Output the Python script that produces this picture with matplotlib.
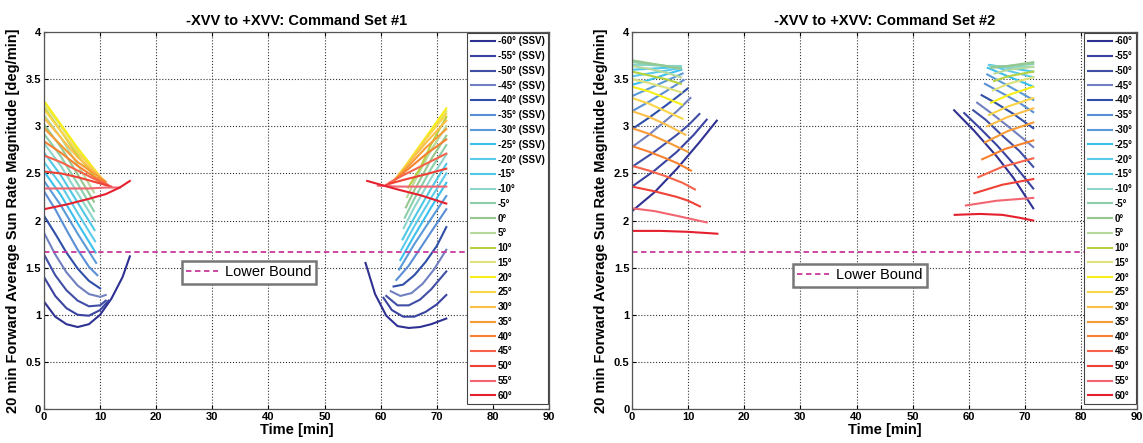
import numpy as np
import matplotlib.pyplot as plt
from matplotlib.lines import Line2D

plt.rcParams['font.family'] = ['Liberation Sans', 'DejaVu Sans']

angles = [-60, -55, -50, -45, -40, -35, -30, -25, -20, -15, -10, -5, 0,
          5, 10, 15, 20, 25, 30, 35, 40, 45, 50, 55, 60]
colors = ['#2e3192', '#3a44a0', '#404ea5', '#7080c0', '#2f4fa8', '#5b8fd5',
          '#5a9ad8', '#3cc0ee', '#5ccbea', '#4fc8e6', '#8dd5cc', '#8acfaa',
          '#94c88f', '#b7d99a', '#b6d23f', '#dfe27a', '#f7ef1a', '#fad548',
          '#fbbf4a', '#f89a35', '#f7812e', '#f6634a', '#ef4136', '#f16670',
          '#e5202e']
lower_bound = 1.67

# Command set #1, start of the window (t from 0)
set1_a_t = [
    [0, 2, 4, 6, 8, 10, 12, 14, 15.3],
    [0, 2, 4, 6, 8, 10, 11.5],
    [0, 2, 4, 6, 8, 10, 11],
    [0, 2, 4, 6, 8, 10, 11],
    [0, 2, 4, 6, 8, 10],
    [0, 2, 4, 6, 8, 9.5],
    [0, 3, 6, 9.3],
    [0, 3, 6, 9.2],
    [0, 3, 6, 9.1],
    [0, 3, 6, 9.0],
    [0, 3, 6, 9.0],
    [0, 3, 6, 8.9],
    [0, 3, 6, 8.9],
    [0, 3, 6, 8.9],
    [0, 3, 6, 9.6],
    [0, 3, 6, 10.0],
    [0, 3, 6, 10.2],
    [0, 3, 6, 10.4],
    [0, 3, 6, 10.6],
    [0, 3, 6, 10.8],
    [0, 3, 6, 9, 11.0],
    [0, 3, 6, 9, 11.4],
    [0, 3, 6, 9, 12.0],
    [0, 4, 8, 11, 13.5],
    [0, 4, 8, 11, 13.5, 15.3],
]
set1_a_v = [
    [1.14, 0.98, 0.90, 0.87, 0.90, 1.00, 1.17, 1.40, 1.62],
    [1.40, 1.20, 1.07, 1.00, 0.99, 1.05, 1.15],
    [1.64, 1.42, 1.26, 1.15, 1.09, 1.10, 1.15],
    [1.87, 1.64, 1.45, 1.31, 1.22, 1.19, 1.21],
    [2.05, 1.86, 1.66, 1.49, 1.36, 1.28],
    [2.31, 2.12, 1.90, 1.69, 1.51, 1.42],
    [2.42, 2.16, 1.86, 1.55],
    [2.52, 2.27, 1.97, 1.66],
    [2.62, 2.38, 2.08, 1.78],
    [2.72, 2.48, 2.19, 1.90],
    [2.82, 2.58, 2.29, 2.00],
    [2.92, 2.68, 2.39, 2.10],
    [3.02, 2.78, 2.49, 2.20],
    [3.12, 2.88, 2.59, 2.30],
    [3.20, 2.95, 2.69, 2.42],
    [3.24, 3.00, 2.75, 2.46],
    [3.27, 3.02, 2.77, 2.45],
    [3.18, 2.95, 2.72, 2.44],
    [3.09, 2.88, 2.67, 2.43],
    [2.98, 2.80, 2.62, 2.42],
    [2.84, 2.72, 2.58, 2.46, 2.41],
    [2.69, 2.62, 2.53, 2.44, 2.38],
    [2.52, 2.50, 2.46, 2.41, 2.36],
    [2.34, 2.34, 2.34, 2.35, 2.35],
    [2.12, 2.17, 2.23, 2.28, 2.35, 2.42],
]

# Command set #1, end of the window (t up to 72)
set1_b_t = [
    [57.3, 59, 61, 63, 65, 67, 69, 71.7],
    [60.5, 62, 64, 66, 68, 70, 71.7],
    [61.0, 63, 65, 67, 69, 71.7],
    [61.8, 63.5, 65.5, 67.5, 69.5, 71.7],
    [62.3, 64, 66, 68, 70, 71.7],
    [62.8, 65, 67, 69, 71.7],
    [63.3, 66, 69, 71.7],
    [63.5, 66, 69, 71.7],
    [63.7, 66, 69, 71.7],
    [63.9, 66, 69, 71.7],
    [64.1, 66, 69, 71.7],
    [64.3, 66, 69, 71.7],
    [64.5, 66, 69, 71.7],
    [64.7, 66, 69, 71.7],
    [64.9, 67, 69, 71.7],
    [62.9, 65, 68, 71.7],
    [62.8, 65, 68, 71.7],
    [62.7, 65, 68, 71.7],
    [62.5, 65, 68, 71.7],
    [62.3, 65, 68, 71.7],
    [62.0, 65, 68, 71.7],
    [61.5, 64, 68, 71.7],
    [61.0, 64, 68, 71.7],
    [59.5, 63, 67, 71.7],
    [57.6, 60, 63, 67, 71.7],
]
set1_b_v = [
    [1.55, 1.22, 0.99, 0.88, 0.86, 0.87, 0.90, 0.96],
    [1.18, 1.05, 0.98, 0.98, 1.03, 1.11, 1.21],
    [1.20, 1.10, 1.10, 1.16, 1.27, 1.46],
    [1.25, 1.20, 1.23, 1.33, 1.48, 1.69],
    [1.30, 1.32, 1.42, 1.56, 1.73, 1.93],
    [1.37, 1.52, 1.70, 1.88, 2.12],
    [1.48, 1.75, 2.02, 2.26],
    [1.58, 1.84, 2.14, 2.40],
    [1.69, 1.94, 2.24, 2.50],
    [1.80, 2.03, 2.34, 2.60],
    [1.92, 2.14, 2.45, 2.70],
    [2.03, 2.23, 2.55, 2.80],
    [2.14, 2.32, 2.65, 2.90],
    [2.25, 2.41, 2.75, 3.00],
    [2.35, 2.55, 2.81, 3.10],
    [2.45, 2.62, 2.86, 3.16],
    [2.45, 2.63, 2.88, 3.19],
    [2.44, 2.62, 2.86, 3.13],
    [2.43, 2.61, 2.82, 3.06],
    [2.42, 2.58, 2.77, 2.97],
    [2.41, 2.55, 2.70, 2.86],
    [2.40, 2.48, 2.60, 2.71],
    [2.38, 2.43, 2.49, 2.55],
    [2.37, 2.36, 2.36, 2.36],
    [2.42, 2.38, 2.33, 2.27, 2.18],
]

# Command set #2, start of the window
set2_a_t = [
    [0, 4, 8, 12, 15.1],
    [0, 4, 8, 11, 13.3],
    [0, 4, 8, 10, 12.0],
    [0, 3, 6, 8, 10.4],
    [0, 3, 6, 8, 9.9],
    [0, 3, 6, 9.2],
    [0, 3, 6, 9.0],
    [0, 3, 6, 8.8],
    [0, 3, 6, 8.7],
    [0, 3, 6, 8.7],
    [0, 3, 6, 8.7],
    [0, 3, 6, 8.6],
    [0, 3, 6, 8.6],
    [0, 3, 6, 8.7],
    [0, 3, 6, 8.7],
    [0, 3, 6, 8.8],
    [0, 3, 6, 8.9],
    [0, 3, 6, 9.0],
    [0, 3, 6, 9.5],
    [0, 3, 6, 9.9],
    [0, 3, 6, 8, 10.5],
    [0, 3, 6, 9, 11.2],
    [0, 4, 8, 10, 12.1],
    [0, 4, 8, 11, 13.3],
    [0, 5, 10, 15.2],
]
set2_a_v = [
    [2.10, 2.30, 2.55, 2.83, 3.06],
    [2.36, 2.53, 2.73, 2.91, 3.07],
    [2.57, 2.73, 2.91, 3.01, 3.13],
    [2.78, 2.91, 3.06, 3.16, 3.30],
    [2.97, 3.09, 3.22, 3.31, 3.40],
    [3.16, 3.26, 3.37, 3.49],
    [3.32, 3.40, 3.48, 3.56],
    [3.44, 3.49, 3.55, 3.60],
    [3.53, 3.56, 3.59, 3.62],
    [3.60, 3.61, 3.62, 3.63],
    [3.65, 3.65, 3.64, 3.64],
    [3.68, 3.66, 3.64, 3.62],
    [3.70, 3.67, 3.64, 3.61],
    [3.64, 3.61, 3.57, 3.52],
    [3.58, 3.54, 3.50, 3.45],
    [3.50, 3.46, 3.41, 3.36],
    [3.42, 3.37, 3.30, 3.23],
    [3.30, 3.24, 3.16, 3.08],
    [3.16, 3.10, 3.02, 2.91],
    [2.98, 2.92, 2.84, 2.73],
    [2.79, 2.73, 2.66, 2.61, 2.53],
    [2.58, 2.53, 2.47, 2.40, 2.33],
    [2.36, 2.31, 2.25, 2.21, 2.15],
    [2.13, 2.10, 2.05, 2.01, 1.98],
    [1.89, 1.89, 1.88, 1.86],
]

# Command set #2, end of the window
set2_b_t = [
    [57.4, 61, 65, 68, 71.5],
    [59.2, 62, 65, 68, 71.5],
    [60.8, 63, 66, 69, 71.5],
    [61.5, 64, 67, 71.5],
    [62.3, 65, 68, 71.5],
    [62.9, 66, 69, 71.5],
    [63.3, 67, 71.5],
    [63.4, 67, 71.5],
    [63.6, 67, 71.5],
    [63.8, 67, 71.5],
    [63.9, 67, 71.5],
    [64.0, 67, 71.5],
    [64.0, 67, 71.5],
    [64.6, 67, 71.5],
    [64.5, 67, 71.5],
    [64.3, 67, 71.5],
    [64.0, 67, 71.5],
    [63.6, 67, 71.5],
    [63.3, 67, 71.5],
    [62.9, 67, 71.5],
    [62.4, 66.5, 71.5],
    [61.7, 66, 71.5],
    [61.0, 66, 71.5],
    [59.5, 65, 71.5],
    [57.5, 62, 66, 69, 71.5],
]
set2_b_v = [
    [3.17, 2.95, 2.68, 2.45, 2.13],
    [3.14, 2.98, 2.80, 2.60, 2.34],
    [3.17, 3.07, 2.90, 2.74, 2.57],
    [3.25, 3.14, 3.00, 2.78],
    [3.33, 3.24, 3.13, 2.98],
    [3.45, 3.35, 3.25, 3.15],
    [3.55, 3.43, 3.28],
    [3.62, 3.53, 3.42],
    [3.65, 3.59, 3.52],
    [3.65, 3.62, 3.58],
    [3.64, 3.63, 3.63],
    [3.63, 3.64, 3.66],
    [3.62, 3.64, 3.68],
    [3.56, 3.60, 3.63],
    [3.48, 3.53, 3.58],
    [3.38, 3.45, 3.52],
    [3.25, 3.33, 3.42],
    [3.12, 3.21, 3.30],
    [3.00, 3.10, 3.19],
    [2.83, 2.95, 3.04],
    [2.65, 2.76, 2.85],
    [2.46, 2.57, 2.66],
    [2.29, 2.38, 2.44],
    [2.16, 2.21, 2.24],
    [2.06, 2.07, 2.06, 2.03, 2.00],
]

fig = plt.figure(figsize=(11.43, 4.43), dpi=100)
ax1 = fig.add_axes([0.0385, 0.0767, 0.4418, 0.851])
ax2 = fig.add_axes([0.553, 0.0767, 0.4418, 0.851])


def draw(ax, a_t, a_v, b_t, b_v, labels, title, lb_pos):
    handles = []
    for i in range(len(angles)):
        ax.plot(a_t[i], a_v[i], color=colors[i], lw=1.5)
        ax.plot(b_t[i], b_v[i], color=colors[i], lw=1.5)
        handles.append(Line2D([], [], color=colors[i], lw=1.5, label=labels[i]))
    lb, = ax.plot([0, 90], [lower_bound, lower_bound], ls='--', color='#c8389a',
                  lw=1.3, dashes=(3, 2), label='Lower Bound')

    ax.set_xlim(0, 90)
    ax.set_ylim(0, 4)
    ax.set_xticks(np.arange(0, 91, 10))
    ax.set_yticks(np.arange(0, 4.01, 0.5))
    ax.set_yticklabels(['0', '0.5', '1', '1.5', '2', '2.5', '3', '3.5', '4'])
    ax.grid(True, ls=':', color='#333333', lw=0.8)
    ax.tick_params(direction='in', labelsize=8, length=3, top=True, right=True, pad=2)
    for lab in ax.get_xticklabels() + ax.get_yticklabels():
        lab.set_fontweight('bold')
    for s in ax.spines.values():
        s.set_color('#555555')
        s.set_linewidth(0.9)

    ax.set_title(title, fontsize=10.5, fontweight='bold', pad=5)
    ax.set_xlabel('Time [min]', fontsize=10.5, fontweight='bold', labelpad=1)
    ax.set_ylabel('20 min Forward Average Sun Rate Magnitude [deg/min]',
                  fontsize=10.5, fontweight='bold', labelpad=4)

    leg = ax.legend(handles=handles, loc='upper right', bbox_to_anchor=(1.0, 1.0),
                    borderaxespad=0.1, prop={'size': 7, 'weight': 'bold'},
                    handlelength=2.5, handletextpad=0.3, labelspacing=0.49,
                    borderpad=0.35, fancybox=False, edgecolor='#444444',
                    framealpha=1)
    leg.get_frame().set_linewidth(0.8)
    ax.add_artist(leg)
    leg2 = ax.legend(handles=[lb], loc='center', bbox_to_anchor=lb_pos,
                     prop={'size': 10.5}, handlelength=2.2, handletextpad=0.5,
                     borderpad=0.3, fancybox=False, edgecolor='#777777',
                     framealpha=1)
    leg2.get_frame().set_linewidth(1.8)


labels1 = [f'{a}\u00b0 (SSV)' if a <= -20 else f'{a}\u00b0' for a in angles]
labels2 = [f'{a}\u00b0' for a in angles]

draw(ax1, set1_a_t, set1_a_v, set1_b_t, set1_b_v, labels1,
     '-XVV to +XVV: Command Set #1', (0.406, 0.363))
draw(ax2, set2_a_t, set2_a_v, set2_b_t, set2_b_v, labels2,
     '-XVV to +XVV: Command Set #2', (0.451, 0.355))

fig.savefig('out.png', dpi=100)
